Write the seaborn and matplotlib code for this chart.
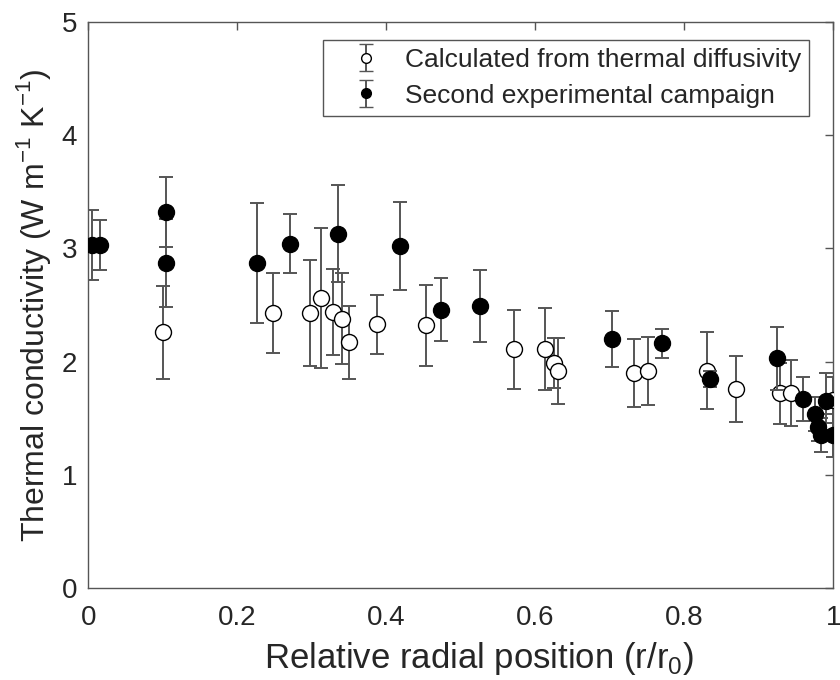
import seaborn as sns
import matplotlib
matplotlib.use("Agg")
import matplotlib.pyplot as plt
from matplotlib.legend_handler import HandlerErrorbar
import pandas as pd
import numpy as np

# data
calc_x = [0.100, 0.248, 0.298, 0.312, 0.328, 0.340, 0.350, 0.387, 0.454, 0.571,
          0.613, 0.625, 0.631, 0.733, 0.751, 0.830, 0.869, 0.928, 0.943, 1.000]
calc_y = [2.26, 2.43, 2.43, 2.56, 2.44, 2.38, 2.17, 2.33, 2.32, 2.11,
          2.11, 1.99, 1.92, 1.90, 1.92, 1.92, 1.76, 1.72, 1.72, 1.66]
calc_err = [0.41, 0.35, 0.47, 0.62, 0.38, 0.40, 0.32, 0.26, 0.36, 0.35,
            0.36, 0.22, 0.29, 0.30, 0.30, 0.34, 0.29, 0.27, 0.29, 0.20]

exp_x = [0.005, 0.016, 0.104, 0.104, 0.226, 0.271, 0.335, 0.418, 0.473, 0.526,
         0.703, 0.770, 0.834, 0.924, 0.959, 0.975, 0.979, 0.984, 0.990, 1.000]
exp_y = [3.03, 3.03, 3.32, 2.87, 2.87, 3.04, 3.13, 3.02, 2.46, 2.49,
         2.20, 2.16, 1.85, 2.03, 1.67, 1.54, 1.42, 1.35, 1.65, 1.35]
exp_err = [0.31, 0.22, 0.31, 0.39, 0.53, 0.26, 0.43, 0.39, 0.28, 0.32,
           0.25, 0.13, 0.07, 0.28, 0.19, 0.15, 0.12, 0.15, 0.25, 0.19]

x_ticks = [0, 0.2, 0.4, 0.6, 0.8, 1]
x_ticklabels = ['0', '0.2', '0.4', '0.6', '0.8', '1']
y_ticks = [0, 1, 2, 3, 4, 5]
labels = ['Calculated from thermal diffusivity', 'Second experimental campaign']

sns.set_style("white")
plt.rcParams['font.family'] = ['Liberation Sans', 'DejaVu Sans']
plt.rcParams['mathtext.fontset'] = 'custom'
plt.rcParams['mathtext.rm'] = 'Liberation Sans'

calc = pd.DataFrame({'x': calc_x, 'y': calc_y, 'err': calc_err})
exp = pd.DataFrame({'x': exp_x, 'y': exp_y, 'err': exp_err})

fig = plt.figure(figsize=(8.4, 6.8), dpi=100)
ax = fig.add_axes([0.105, 0.135, 0.887, 0.833])

bar_col = '#555555'
ms = 11.5
cap = 4.7

# open symbols
ax.errorbar(calc['x'], calc['y'], yerr=calc['err'], fmt='none', ecolor=bar_col,
            elinewidth=1.4, capsize=cap, capthick=1.4, zorder=2)
sns.scatterplot(data=calc, x='x', y='y', ax=ax, s=ms**2, color='white',
                edgecolor='black', linewidth=1.0, legend=False, zorder=3)
# filled symbols
ax.errorbar(exp['x'], exp['y'], yerr=exp['err'], fmt='none', ecolor=bar_col,
            elinewidth=1.4, capsize=cap, capthick=1.4, zorder=4)
sns.scatterplot(data=exp, x='x', y='y', ax=ax, s=ms**2, color='black',
                edgecolor='black', linewidth=1.0, legend=False, zorder=5)

# legend proxies (a single NaN point, nothing drawn)
h1 = ax.errorbar([np.nan], [np.nan], yerr=[1], fmt='o', ms=7, mfc='white', mec='black', mew=1.0,
                 ecolor=bar_col, elinewidth=1.4, capsize=5, capthick=1.4)
h2 = ax.errorbar([np.nan], [np.nan], yerr=[1], fmt='o', ms=7, mfc='black', mec='black', mew=1.0,
                 ecolor=bar_col, elinewidth=1.4, capsize=5, capthick=1.4)
leg = ax.legend([h1, h2], labels, loc='upper right', bbox_to_anchor=(0.968, 0.968),
                borderaxespad=0, fontsize=19, fancybox=False, framealpha=1,
                edgecolor='#555555', handlelength=2.66, handletextpad=0.15,
                labelspacing=0.45, borderpad=0.3,
                handler_map={type(h1): HandlerErrorbar(yerr_size=0.5)})
leg.get_frame().set_linewidth(1.0)

ax.set_xlim(0, 1)
ax.set_ylim(0, 5)
ax.set_xticks(x_ticks)
ax.set_xticklabels(x_ticklabels)
ax.set_yticks(y_ticks)
ax.tick_params(direction='in', length=6, width=1, color='#555555', labelsize=20,
               labelcolor='#262626', top=True, right=True, pad=8)
ax.tick_params(axis='x', pad=12)
for sp in ax.spines.values():
    sp.set_visible(True)
    sp.set_color('#555555')
    sp.set_linewidth(1.0)

ax.set_xlabel('Relative radial position (r/r$_0$)', fontsize=25, color='#262626')
ax.xaxis.set_label_coords(0.525, -0.092)
ax.xaxis.label.set_va('top')
ax.set_ylabel('Thermal conductivity (W m$^{-1}$ K$^{-1}$)', fontsize=23, color='#262626', labelpad=6)

fig.savefig('out.png', dpi=100)
